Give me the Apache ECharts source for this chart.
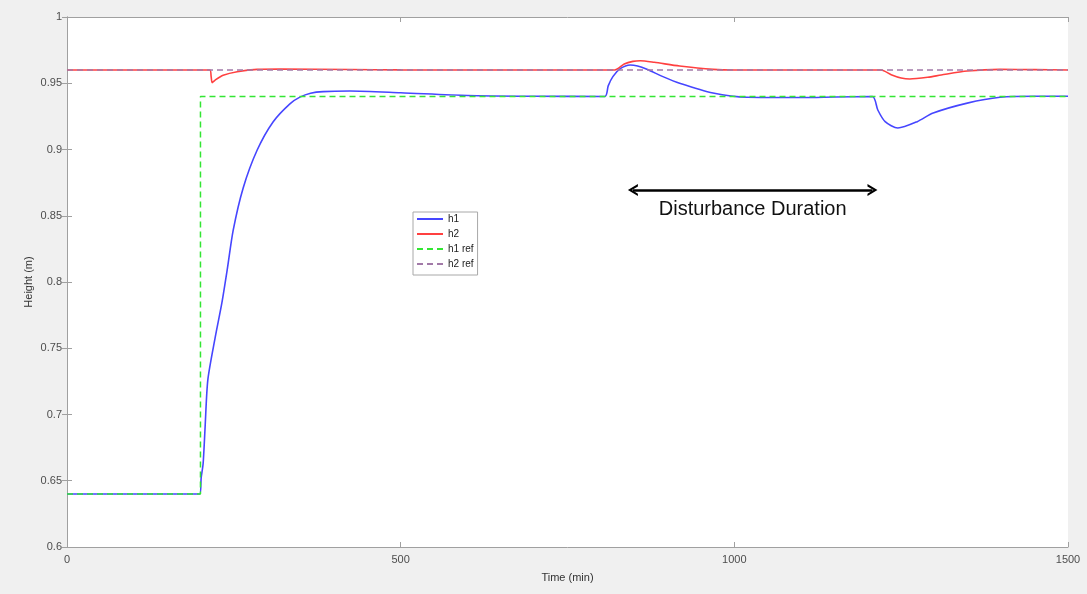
<!DOCTYPE html>
<html>
<head>
<meta charset="utf-8">
<script src="https://cdn.jsdelivr.net/npm/echarts@6/dist/echarts.min.js"></script>
<style>
html,body{margin:0;padding:0;background:#f0f0f0;}
#chart{width:1087px;height:594px;}
</style>
</head>
<body>
<div id="chart"></div>
<script>
// ---- data ----
var h1Time = [0,199,201,204,207,211,222,232,240,249,264,285,309,334,349,365,384,424,500,600,700,806,811,818,829,844,855,869,893,918,968,1019,1100,1150,1207,1215,1226,1245,1274,1298,1349,1398,1450,1500];
var h1Vals = [0.64,0.64,0.652,0.663,0.691,0.726,0.758,0.784,0.809,0.839,0.871,0.8996,0.921,0.9345,0.9395,0.9425,0.9437,0.9441,0.9428,0.9408,0.9402,0.94,0.948,0.955,0.961,0.9638,0.963,0.9605,0.955,0.95,0.9426,0.9394,0.9392,0.9396,0.94,0.9298,0.921,0.9162,0.921,0.9275,0.935,0.9394,0.9402,0.9402];

var h2Time = [0,214,216,217.5,222,234,255,285,319,424,500,600,821,835,848,859,880,918,968,1000,1220,1235,1250,1263,1290,1310,1349,1398,1450,1500];
var h2Vals = [0.96,0.96,0.955,0.9505,0.9524,0.956,0.9587,0.9605,0.9607,0.9604,0.9601,0.96,0.96,0.9645,0.9665,0.967,0.9658,0.963,0.9605,0.96,0.96,0.9565,0.954,0.9532,0.9545,0.9562,0.9592,0.9605,0.9603,0.96];

var h1RefTime = [0,200,200,1500];
var h1RefVals = [0.64,0.64,0.94,0.94];

var h2RefTime = [0,1500];
var h2RefVals = [0.96,0.96];

var xTicks = [0,500,1000,1500];
var yTicks = [0.6,0.65,0.7,0.75,0.8,0.85,0.9,0.95,1];

var arrowStart = 848, arrowEnd = 1207, arrowLevel = 0.8694;
var annotationText = 'Disturbance Duration';

function pairs(t, v){ return t.map(function(x,i){ return [x, v[i]]; }); }

var chart = echarts.init(document.getElementById('chart'));
var axisColor = '#a0a0a0';
var labelColor = '#4d4d4d';
var font = 'Liberation Sans, Arial, sans-serif';

var chevron = 'path://M0,10 L5,0 L10,10 L8,10 L5,4 L2,10 Z';

chart.setOption({
  backgroundColor: '#f0f0f0',
  animation: false,
  textStyle: {fontFamily: font},
  grid: {left: 67, top: 17, right: 19, bottom: 47, show: true, backgroundColor: '#ffffff', borderWidth: 0},
  legend: {
    left: 413, top: 212, orient: 'vertical',
    backgroundColor: '#ffffff', borderColor: '#a8a8a8', borderWidth: 1,
    padding: [2, 4, 6, 3], itemGap: 5, itemWidth: 26, itemHeight: 10,
    itemStyle: {opacity: 0},
    textStyle: {fontSize: 10, color: '#222', fontFamily: font},
    data: ['h1','h2','h1 ref','h2 ref']
  },
  xAxis: [{
    type: 'value', min: xTicks[0], max: xTicks[xTicks.length-1], interval: 500,
    name: 'Time (min)', nameLocation: 'middle', nameGap: 25, nameMoveOverlap: false,
    nameTextStyle: {fontSize: 11, color: '#333'},
    axisLine: {onZero: false, lineStyle: {color: axisColor, width: 1}},
    axisTick: {inside: true, length: 5, lineStyle: {color: axisColor}},
    axisLabel: {fontSize: 11, color: labelColor, margin: 7, formatter: function(v){ return String(v); }},
    splitLine: {show: false}
  },{
    type: 'value', position: 'top', min: xTicks[0], max: xTicks[xTicks.length-1], interval: 500,
    axisLine: {lineStyle: {color: axisColor, width: 1}},
    axisTick: {inside: true, length: 5, lineStyle: {color: axisColor}},
    axisLabel: {show: false}, splitLine: {show: false}
  }],
  yAxis: [{
    type: 'value', min: yTicks[0], max: yTicks[yTicks.length-1], interval: 0.05,
    name: 'Height (m)', nameLocation: 'middle', nameGap: 33, nameRotate: 90, nameMoveOverlap: false,
    nameTextStyle: {fontSize: 11, color: '#333'},
    axisLine: {show: true, onZero: false, lineStyle: {color: axisColor, width: 1}},
    axisTick: {show: true, inside: true, length: 5, lineStyle: {color: axisColor}},
    axisLabel: {fontSize: 11, color: labelColor, margin: 5},
    splitLine: {show: false}
  },{
    type: 'value', position: 'right', min: yTicks[0], max: yTicks[yTicks.length-1], interval: 0.05,
    axisLine: {show: true, lineStyle: {color: axisColor, width: 1}},
    axisTick: {show: true, inside: true, length: 5, lineStyle: {color: axisColor}},
    axisLabel: {show: false}, splitLine: {show: false}
  }],
  series: [
    {name: 'h1', type: 'line', data: pairs(h1Time, h1Vals), smooth: 0.25, showSymbol: false, symbol: 'none',
     lineStyle: {color: '#4646ff', width: 1.6}, itemStyle: {color: '#4646ff'}, z: 2},
    {name: 'h2', type: 'line', data: pairs(h2Time, h2Vals), smooth: 0.25, showSymbol: false, symbol: 'none',
     lineStyle: {color: '#ff4040', width: 1.6}, itemStyle: {color: '#ff4040'}, z: 2},
    {name: 'h1 ref', type: 'line', data: pairs(h1RefTime, h1RefVals), showSymbol: false, symbol: 'none',
     lineStyle: {color: '#33e633', width: 1.5, type: [6, 4]}, itemStyle: {color: '#33e633'}, z: 3,
     markLine: {
       silent: true, symbol: [chevron, chevron], symbolSize: [12, 10],
       lineStyle: {color: '#000', width: 2.5, type: 'solid'},
       label: {show: true, position: 'insideMiddleBottom', distance: 9, formatter: annotationText,
               fontSize: 20, color: '#111', fontFamily: font},
       emphasis: {disabled: true},
       data: [[{coord: [arrowStart, arrowLevel]}, {coord: [arrowEnd, arrowLevel]}]]
     }},
    {name: 'h2 ref', type: 'line', data: pairs(h2RefTime, h2RefVals), showSymbol: false, symbol: 'none',
     lineStyle: {color: '#a27aa8', width: 1.5, type: [6, 4]}, itemStyle: {color: '#a27aa8'}, z: 3}
  ]
});
</script>
</body>
</html>
